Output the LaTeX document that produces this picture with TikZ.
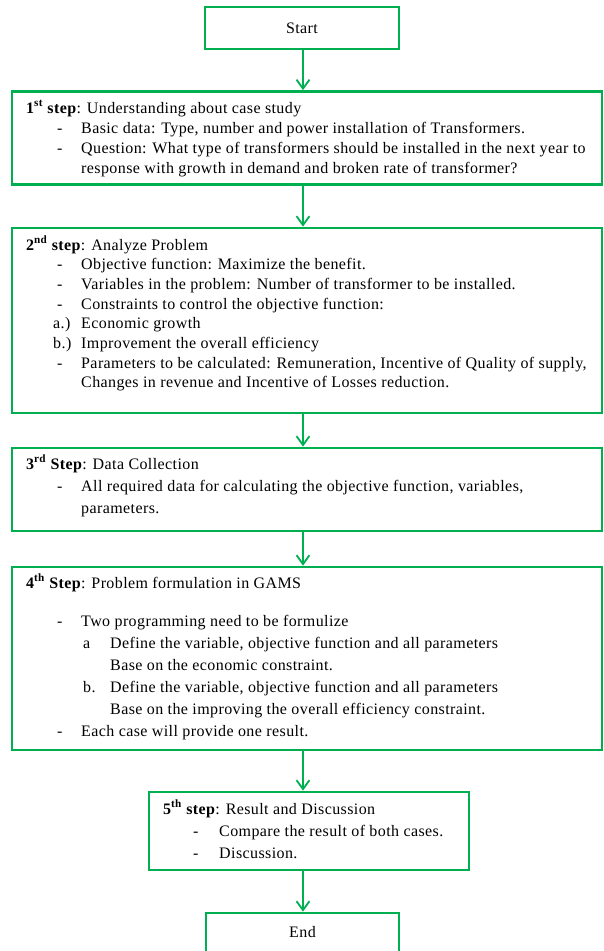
\documentclass[tikz,border=0pt]{standalone}
\usepackage{fontspec}
\setmainfont{Liberation Serif}[LetterSpace=2.5]
\usetikzlibrary{arrows.meta}
\definecolor{wgreen}{RGB}{0,176,80}
\begin{document}
\begin{tikzpicture}[x=1pt,y=-1pt,
  box/.style={draw=wgreen, line width=2.7pt, inner sep=0pt, fill=white,
    font=\fontsize{16}{18}\selectfont},
  arr/.style={draw=wgreen, line width=1.8pt,
    -{Straight Barb[length=9pt,width=13pt,line width=1.8pt]}},
  txt/.style={anchor=base west, inner sep=0pt, font=\fontsize{16}{18}\selectfont},
]
\useasboundingbox (0,0) rectangle (604,951);
% boxes
\node[box, minimum width=194pt, minimum height=42pt] (start) at (302,28) {Start};
\node[box, minimum width=590pt, minimum height=93pt] (b1) at (307,138) {};
\node[box, minimum width=590pt, minimum height=185pt] (b2) at (307,320.5) {};
\node[box, minimum width=590pt, minimum height=83pt] (b3) at (307,489.5) {};
\node[box, minimum width=590pt, minimum height=183pt] (b4) at (307,658.5) {};
\node[box, minimum width=320pt, minimum height=78pt] (b5) at (309,831) {};
\node[box, minimum width=193pt, minimum height=47pt] (end) at (302.5,936.5) {};
\node[txt, anchor=base] (endtxt) at (302.5,937) {End};
% connectors
\coordinate (ax) at (303,0);
\draw[arr] (start.south -| ax) -- (b1.north -| ax);
\draw[arr] (b1.south -| ax) -- (b2.north -| ax);
\draw[arr] (b2.south -| ax) -- (b3.north -| ax);
\draw[arr] (b3.south -| ax) -- (b4.north -| ax);
\draw[arr] (b4.south -| ax) -- (b5.north -| ax);
\draw[arr] (b5.south -| ax) -- (end.north -| ax);
% box 1
\node[txt] (t1a) at (26,113) {\textbf{1\textsuperscript{st} step}: Understanding about case study};
\node[txt] (d1b) at (57,133) {-};
\node[txt] (t1b) at (81,133) {Basic data: Type, number and power installation of Transformers.};
\node[txt] (d1c) at (57,153) {-};
\node[txt] (t1c) at (81,153) {Question: What type of transformers should be installed in the next year to};
\node[txt] (t1d) at (81,173) {response with growth in demand and broken rate of transformer?};
% box 2
\node[txt] (t2a) at (26,250) {\textbf{2\textsuperscript{nd} step}: Analyze Problem};
\node[txt] (d2b) at (57,269.7) {-};
\node[txt] (t2b) at (81,269.7) {Objective function: Maximize the benefit.};
\node[txt] (d2c) at (57,289.4) {-};
\node[txt] (t2c) at (81,289.4) {Variables in the problem: Number of transformer to be installed.};
\node[txt] (d2d) at (57,309.1) {-};
\node[txt] (t2d) at (81,309.1) {Constraints to control the objective function:};
\node[txt] (d2e) at (53,328.8) {a.)};
\node[txt] (t2e) at (81,328.8) {Economic growth};
\node[txt] (d2f) at (53,348.5) {b.)};
\node[txt] (t2f) at (81,348.5) {Improvement the overall efficiency};
\node[txt] (d2g) at (57,368.2) {-};
\node[txt] (t2g) at (81,368.2) {Parameters to be calculated: Remuneration, Incentive of Quality of supply,};
\node[txt] (t2h) at (81,387.9) {Changes in revenue and Incentive of Losses reduction.};
% box 3
\node[txt] (t3a) at (26,469) {\textbf{3\textsuperscript{rd} Step}: Data Collection};
\node[txt] (d3b) at (57,491) {-};
\node[txt] (t3b) at (81,491) {All required data for calculating the objective function, variables,};
\node[txt] (t3c) at (81,513) {parameters.};
% box 4
\node[txt] (t4a) at (26,588) {\textbf{4\textsuperscript{th} Step}: Problem formulation in GAMS};
\node[txt] (d4b) at (57,626) {-};
\node[txt] (t4b) at (81,626) {Two programming need to be formulize};
\node[txt] (d4c) at (83,648) {a};
\node[txt] (t4c) at (110,648) {Define the variable, objective function and all parameters};
\node[txt] (t4d) at (110,670) {Base on the economic constraint.};
\node[txt] (d4e) at (83,692) {b.};
\node[txt] (t4e) at (110,692) {Define the variable, objective function and all parameters};
\node[txt] (t4f) at (110,714) {Base on the improving the overall efficiency constraint.};
\node[txt] (d4g) at (57,736) {-};
\node[txt] (t4g) at (81,736) {Each case will provide one result.};
% box 5
\node[txt] (t5a) at (163,814) {\textbf{5\textsuperscript{th} step}: Result and Discussion};
\node[txt] (d5b) at (193,836) {-};
\node[txt] (t5b) at (219,836) {Compare the result of both cases.};
\node[txt] (d5c) at (193,858) {-};
\node[txt] (t5c) at (219,858) {Discussion.};
\end{tikzpicture}
\end{document}
